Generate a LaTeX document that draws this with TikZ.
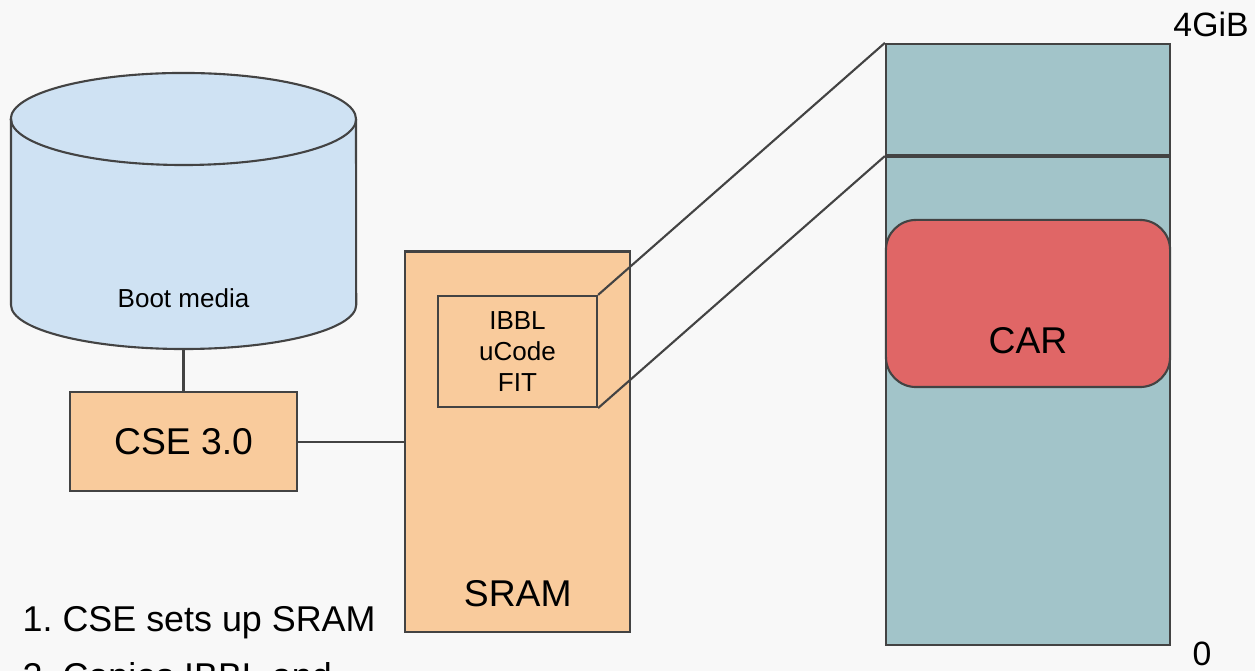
\documentclass[tikz,border=0pt]{standalone}
\usepackage{fontspec}
\setmainfont{Liberation Sans}
\usetikzlibrary{positioning}
\frenchspacing
\definecolor{pagegray}{HTML}{F8F8F8}
\definecolor{linegray}{HTML}{434343}
\definecolor{bootblue}{HTML}{CFE2F3}
\definecolor{sramorange}{HTML}{F9CB9C}
\definecolor{memteal}{HTML}{A2C4C9}
\definecolor{carred}{HTML}{E06666}
\tikzset{
  block/.style = {rectangle, draw=linegray, line width=0.6pt, fill=sramorange, inner sep=0pt},
  memblock/.style = {rectangle, draw=linegray, line width=0.6pt, fill=memteal, minimum width=2.84cm, inner sep=0pt},
  line/.style = {draw=linegray, line width=0.6pt},
  big/.style = {font=\fontsize{10.6}{12}\selectfont},
  small/.style = {font=\fontsize{7.4}{8.8}\selectfont},
  addr/.style = {font=\fontsize{9.6}{11}\selectfont}
}
\begin{document}
\begin{tikzpicture}[x=0.01cm, y=-0.01cm]

    \fill[pagegray] (0,0) rectangle (1255,671);
    \clip (0,0) rectangle (1255,671);

    % Boot media (drawn as a cylinder)
    \filldraw[fill=bootblue, draw=linegray, line width=0.6pt]
      (11,119) -- (11,305) arc[start angle=180, end angle=360, x radius=1.725cm, y radius=0.44cm]
      -- (356,119) arc[start angle=0, end angle=180, x radius=1.725cm, y radius=0.46cm] -- cycle;
    \draw[linegray, line width=0.6pt] (11,119) arc[start angle=180, end angle=360, x radius=1.725cm, y radius=0.46cm];
    \coordinate (boot) at (183.5,349);
    \node[small] (boottext) at (183.5,298) {Boot media};

    % CSE and SRAM
    \node[block, big, minimum width=2.27cm, minimum height=0.99cm, below=0.42cm of boot] (cse) {CSE 3.0};
    \node[block, minimum width=2.25cm, minimum height=3.8cm, right=1.06cm of cse] (sram) {};
    \node[big] (sramtext) at ([yshift=0.39cm]sram.south) {SRAM};
    \node[block, small, align=center, minimum width=1.59cm, minimum height=1.11cm] (ibbl) at (517.5,351.5) {IBBL\\uCode\\FIT};

    % Memory map
    \node[memblock, minimum height=1.11cm] (hi) at (1028,99.5) {};
    \node[memblock, minimum height=4.88cm, below=0pt of hi] (lo) {};
    \node[rectangle, rounded corners=0.3cm, draw=linegray, line width=0.6pt, fill=carred,
          minimum width=2.84cm, minimum height=1.67cm, inner sep=0pt] (car) at (1028,303.5) {};
    \node[big] (cartext) at ([yshift=0.47cm]car.south) {CAR};
    \node[addr] (top) at (1211,24) {4GiB};
    \node[addr] (zero) at (1202,654) {0};

    % Lines
    \path [line] (boot) -- (cse.north);
    \path [line] (cse.east) -- (sram.west);
    \path [line] (ibbl.north east) -- (hi.north west);
    \path [line] (ibbl.south east) -- (hi.south west);

    % Steps
    \node[align=left, anchor=north west, inner sep=0pt,
          font=\fontsize{10.2}{16.2}\selectfont] (steps) at (22,606) {1. CSE sets up SRAM\\2. Copies IBBL and};

\end{tikzpicture}
\end{document}
